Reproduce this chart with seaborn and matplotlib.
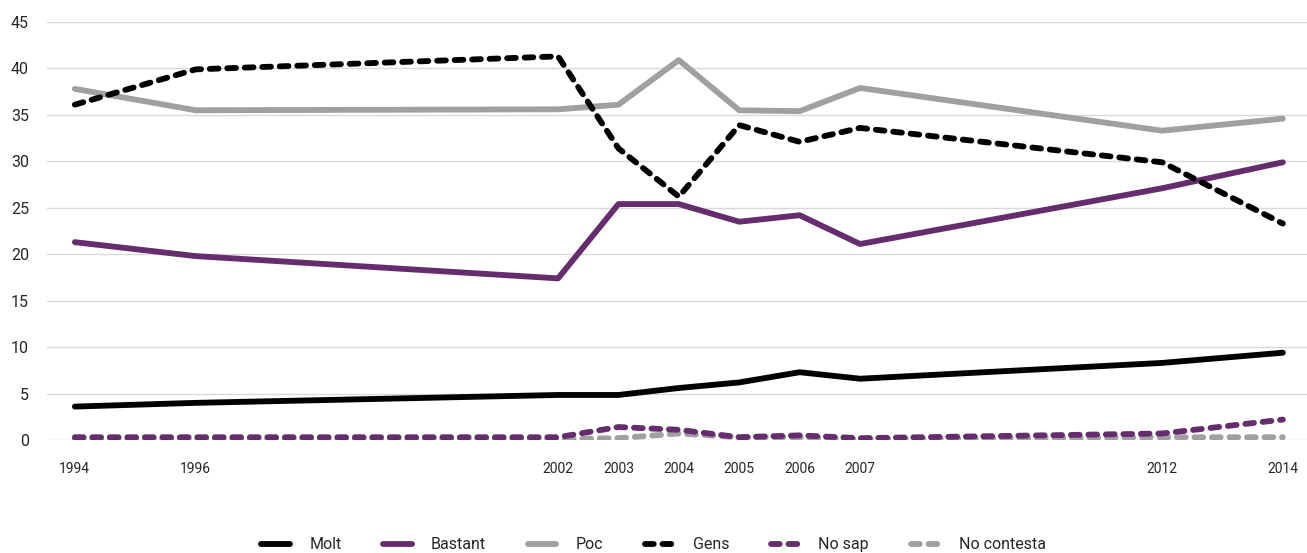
import numpy as np
import pandas as pd
import seaborn as sns
import matplotlib.pyplot as plt

# Data
years = [1994, 1996, 2002, 2003, 2004, 2005, 2006, 2007, 2012, 2014]
molt = [3.6, 4.0, 4.85, 4.85, 5.6, 6.2, 7.3, 6.6, 8.3, 9.4]
bastant = [21.3, 19.8, 17.4, 25.4, 25.4, 23.5, 24.2, 21.1, 27.1, 29.9]
poc = [37.8, 35.5, 35.6, 36.1, 40.9, 35.5, 35.4, 37.9, 33.3, 34.6]
gens = [36.1, 39.9, 41.3, 31.4, 26.2, 33.9, 32.1, 33.6, 29.9, 23.3]
no_sap = [0.3, 0.3, 0.3, 1.4, 1.1, 0.3, 0.5, 0.2, 0.7, 2.2]
no_contesta = [0.1, 0.1, 0.1, 0.2, 0.7, 0.3, 0.3, 0.1, 0.3, 0.3]

series = ["Molt", "Bastant", "Poc", "Gens", "No sap", "No contesta"]
values = [molt, bastant, poc, gens, no_sap, no_contesta]
colors = ["#000000", "#662d6e", "#a0a0a0", "#000000", "#662d6e", "#a0a0a0"]
dashed = [False, False, False, True, True, True]
zorders = [3, 3, 3, 4, 3.5, 3.2]

data = pd.DataFrame({
    "any": years * len(series),
    "valor": sum(values, []),
    "serie": np.repeat(series, len(years)),
})

sns.set_theme(style="white")
plt.rcParams['font.family'] = ['Roboto', 'DejaVu Sans']

fig = plt.figure(figsize=(13.07, 5.53), dpi=100)
ax = fig.add_axes([0.036, 0.2043, 0.964, 0.7559])

for name, col, dsh, z in zip(series, colors, dashed, zorders):
    sub = data[data["serie"] == name]
    sns.lineplot(data=sub, x="any", y="valor", color=col, linewidth=4.2,
                 label=name, ax=ax, zorder=z)
    ln = ax.get_lines()[-1]
    ln.set_solid_capstyle("round")
    ln.set_solid_joinstyle("round")
    if dsh:
        ln.set_dashes((1.5, 1.5))
        ln.set_dash_capstyle("round")
        ln.set_dash_joinstyle("round")

ax.set_xlim(1993.54, 2014.4)
ax.set_ylim(0, 45)
ax.set_yticks(range(0, 50, 5))
ax.set_xticks(years)
ax.set_xticklabels([str(y) for y in years], fontsize=10)
ax.tick_params(axis="y", labelsize=11.5, length=0, pad=13)
ax.tick_params(axis="x", length=0, pad=16)
ax.grid(axis="y", color="#d9d9d9", linewidth=1)
ax.set_axisbelow(True)
sns.despine(ax=ax, left=True, bottom=True)
ax.set_xlabel("")
ax.set_ylabel("")

handles, labels = ax.get_legend_handles_labels()
ax.get_legend().remove()
fig.legend(handles, labels, loc="lower center", ncol=6, frameon=False,
           fontsize=11.5, bbox_to_anchor=(0.5, -0.025), handlelength=1.8,
           columnspacing=2.6, handletextpad=1.2)

fig.savefig("out.png", dpi=100)
